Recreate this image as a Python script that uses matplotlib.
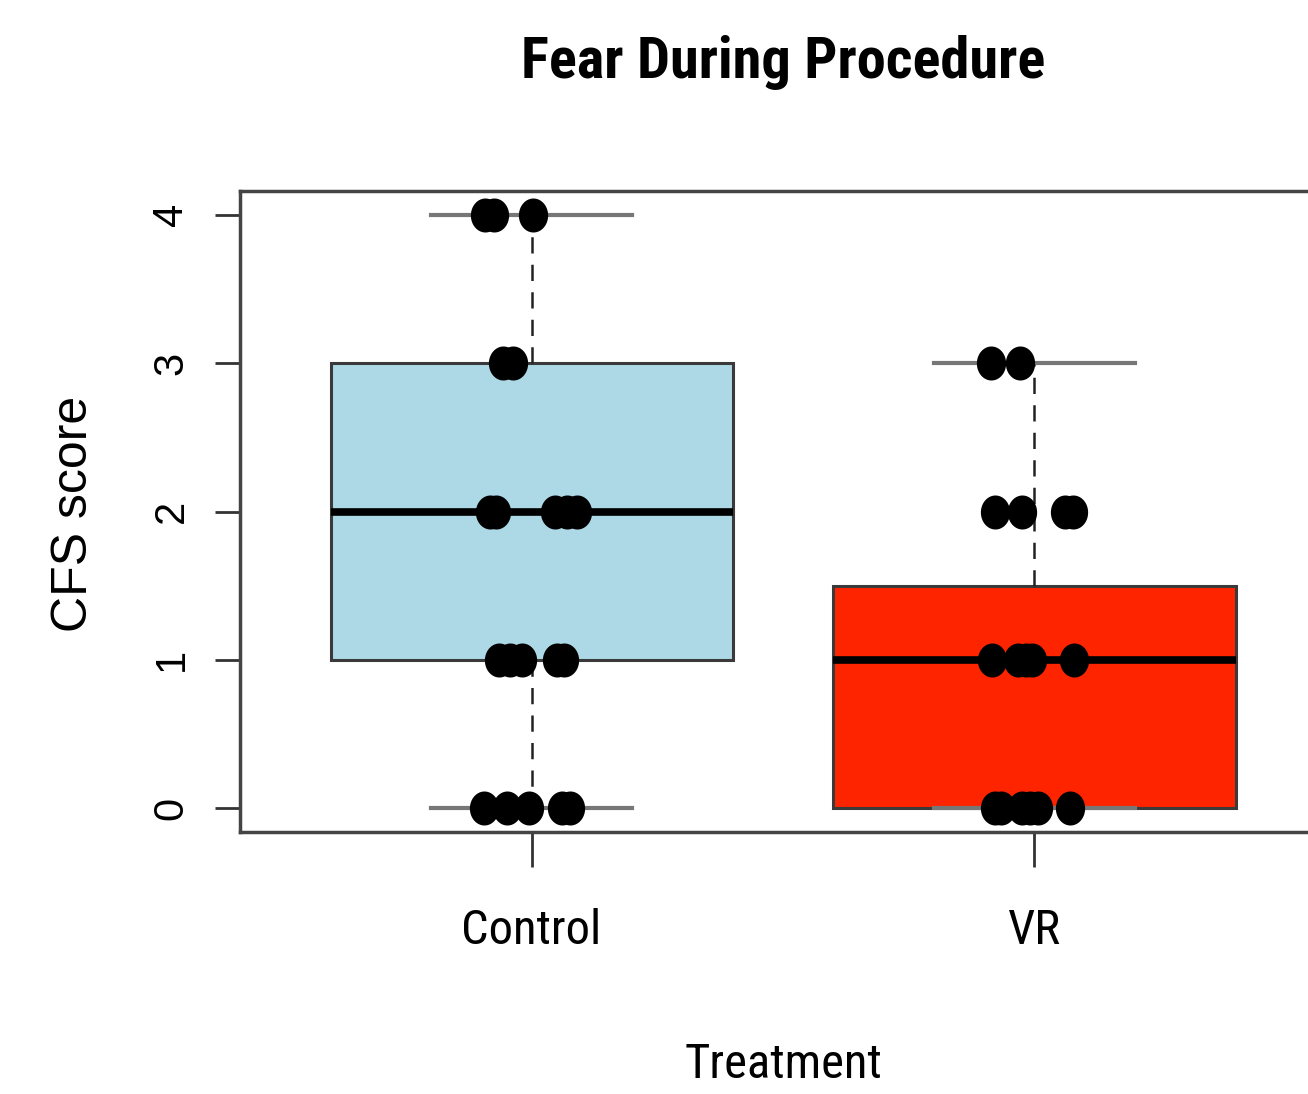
import matplotlib
matplotlib.use("Agg")
import matplotlib.pyplot as plt
import numpy as np
from matplotlib.path import Path
from matplotlib.markers import MarkerStyle

# ---------------- data ----------------
groups = ["Control", "VR"]
box_colors = ["#ADD8E6", "#FF2400"]
# five-number summaries
whislo = [0, 0]
q1 = [1, 0]
med = [2, 1]
q3 = [3, 1.5]
whishi = [4, 3]

control_scores = [0, 0, 0, 0, 0, 1, 1, 1, 1, 1, 2, 2, 2, 2, 2, 3, 3, 4, 4, 4]
control_jitter = [-0.095, -0.048, -0.006, 0.060, 0.076,
                  -0.064, -0.042, -0.020, 0.050, 0.064,
                  -0.083, -0.070, 0.046, 0.070, 0.091,
                  -0.056, -0.038,
                  -0.093, -0.074, 0.002]
vr_scores = [0, 0, 0, 0, 0, 0, 1, 1, 1, 1, 1, 2, 2, 2, 2, 3, 3]
vr_jitter = [-0.078, -0.066, -0.024, -0.008, 0.008, 0.070,
             -0.085, -0.032, -0.016, -0.004, 0.078,
             -0.078, -0.024, 0.060, 0.076,
             -0.087, -0.028]
yticks = [0, 1, 2, 3, 4]

title = "Fear During Procedure"
xlabel = "Treatment"
ylabel = "CFS score"

# ---------------- figure ----------------
W, H = 1308, 1094
fig = plt.figure(figsize=(W / 100, H / 100), dpi=100)
ax_l, ax_r, ax_t, ax_b = 240, 1326, 191, 832
ax = fig.add_axes([ax_l / W, 1 - ax_b / H, (ax_r - ax_l) / W, (ax_b - ax_t) / H])

narrow = ["Roboto Condensed", "Archivo Narrow", "Liberation Sans", "DejaVu Sans"]
regular = ["Liberation Sans", "DejaVu Sans"]

stats = []
for i, g in enumerate(groups):
    stats.append(dict(label=g, whislo=whislo[i], q1=q1[i], med=med[i],
                      q3=q3[i], whishi=whishi[i], fliers=[]))

bp = ax.bxp(stats, positions=[1, 2], widths=0.8, patch_artist=True,
            showfliers=False,
            boxprops=dict(edgecolor="#3a3a3a", linewidth=2.2),
            medianprops=dict(color="black", linewidth=5.5, solid_capstyle="butt"),
            whiskerprops=dict(color="#222222", linewidth=1.8, linestyle=(0, (6.5, 4.5))),
            capprops=dict(color="#777777", linewidth=3.0),
            capwidths=0.4)
for patch, c in zip(bp["boxes"], box_colors):
    patch.set_facecolor(c)

# slightly tall ellipse marker
t = np.linspace(0, 2 * np.pi, 60)
ell = Path(np.column_stack([0.43 * np.cos(t), 0.5 * np.sin(t)]), closed=True)
mk = MarkerStyle(ell)

ax.scatter(1 + np.array(control_jitter), control_scores, s=600, marker=mk,
           color="black", zorder=5, linewidths=0)
ax.scatter(2 + np.array(vr_jitter), vr_scores, s=600, marker=mk,
           color="black", zorder=5, linewidths=0)

ax.set_xlim(0.42, 2.58)
ax.set_ylim(-0.16, 4.16)
ax.set_yticks(yticks)
ax.set_yticklabels([str(v) for v in yticks], rotation=90, va="center",
                   fontfamily=regular, fontsize=30)
ax.set_xticks([1, 2])
ax.set_xticklabels(groups, fontfamily=narrow, fontsize=35)

ax.tick_params(axis="y", length=18, width=2, color="#333333", pad=17)
ax.tick_params(axis="x", length=25, width=2, color="#333333", pad=30)
for s in ["left", "top", "bottom", "right"]:
    ax.spines[s].set_linewidth(2.5)
    ax.spines[s].set_color("#444444")

fig.text(783 / W, 1 - 62 / H, title, ha="center", va="center",
         fontfamily=narrow, fontweight="bold", fontsize=42)
fig.text(783 / W, 1 - 1065 / H, xlabel, ha="center", va="center",
         fontfamily=narrow, fontsize=35)
fig.text(74 / W, 1 - 514 / H, ylabel, ha="center", va="center",
         rotation=90, fontfamily=regular, fontsize=36)

fig.savefig("out.png", dpi=100)
